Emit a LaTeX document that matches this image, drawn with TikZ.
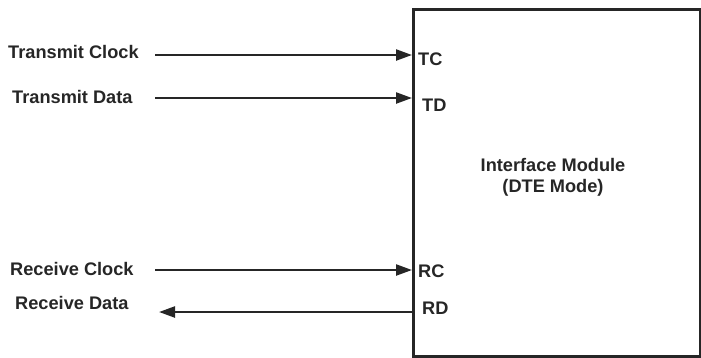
\documentclass[tikz,border=0pt]{standalone}
\usepackage{fontspec}
\setmainfont{Liberation Sans}
\usetikzlibrary{arrows.meta}
\begin{document}
\begin{tikzpicture}[x=1pt,y=-1pt,
  every node/.style={font=\fontsize{18.2}{21}\selectfont\bfseries, inner sep=0pt, text=black!85},
  lbl/.style={anchor=west},
  arr/.style={line width=2.3pt, draw=black!85, -{Triangle[length=16pt,width=11pt]}},
  modbox/.style={draw=black!85, line width=3pt, minimum width=287pt, minimum height=347pt, anchor=north west}]
\useasboundingbox (0,0) rectangle (701,357);
\node[modbox] (box) at (412,8) {};
\node[align=center] (title) at (553,177) {Interface Module\\(DTE Mode)};
% left labels
\node[lbl] (ltc) at (8,52) {Transmit Clock};
\node[lbl] (ltd) at (12,97) {Transmit Data};
\node[lbl] (lrc) at (10,269) {Receive Clock};
\node[lbl] (lrd) at (15,303) {Receive Data};
% pin labels
\node[lbl] (ptc) at (418,59) {TC};
\node[lbl] (ptd) at (422,105) {TD};
\node[lbl] (prc) at (418,271) {RC};
\node[lbl] (prd) at (422,308) {RD};
% arrow endpoints
\coordinate (stc) at (155,55);
\coordinate (std) at (155,98);
\coordinate (src) at (155,270);
\coordinate (erd) at (159,312);
\draw[arr] (stc) -- (stc -| box.west);
\draw[arr] (std) -- (std -| box.west);
\draw[arr] (src) -- (src -| box.west);
\draw[arr] (erd -| box.west) -- (erd);
\end{tikzpicture}
\end{document}
